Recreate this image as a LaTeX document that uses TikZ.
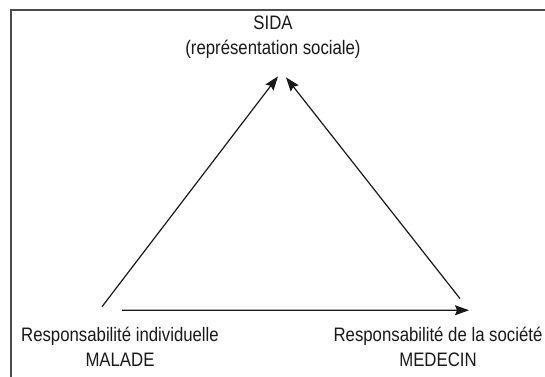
\documentclass[tikz,border=0pt]{standalone}
\usepackage{fontspec}
\setmainfont[FakeStretch=0.86]{Liberation Sans}
\usetikzlibrary{arrows.meta,calc}
\tikzset{
  lbl/.style={inner sep=0pt, outer sep=0pt, align=center, text=black!90,
    font=\fontsize{19.5}{25}\selectfont},
  conn/.style={line width=1.2pt, draw=black!90,
    -{Stealth[length=14pt,width=10pt,inset=2pt]}},
  frame/.style={line width=1.6pt, draw=black!70}
}
\begin{document}
\begin{tikzpicture}[x=1pt,y=-1pt]
  \useasboundingbox (0,0) rectangle (545,376);
  \begin{scope}
    \clip (0,0) rectangle (545,376);
    \draw[frame] (11,10) rectangle (620,420);
  \end{scope}
  \node[lbl] (sida) at (273,37) {SIDA\\(représentation sociale)};
  \node[lbl] (malade) at (120,347) {Responsabilité individuelle\\MALADE};
  \node[lbl] (medecin) at (438,347) {Responsabilité de la société\\MEDECIN};
  \draw[conn] ($(malade.north)+(-18,-20.6)$) -- ($(sida.south)+(5,18)$);
  \draw[conn] ($(medecin.north)+(22,-28.6)$) -- ($(sida.south)+(13,19)$);
  \draw[conn] ($(malade.north)+(2,-17)$) -- ($(medecin.north)+(31,-17)$);
\end{tikzpicture}
\end{document}
